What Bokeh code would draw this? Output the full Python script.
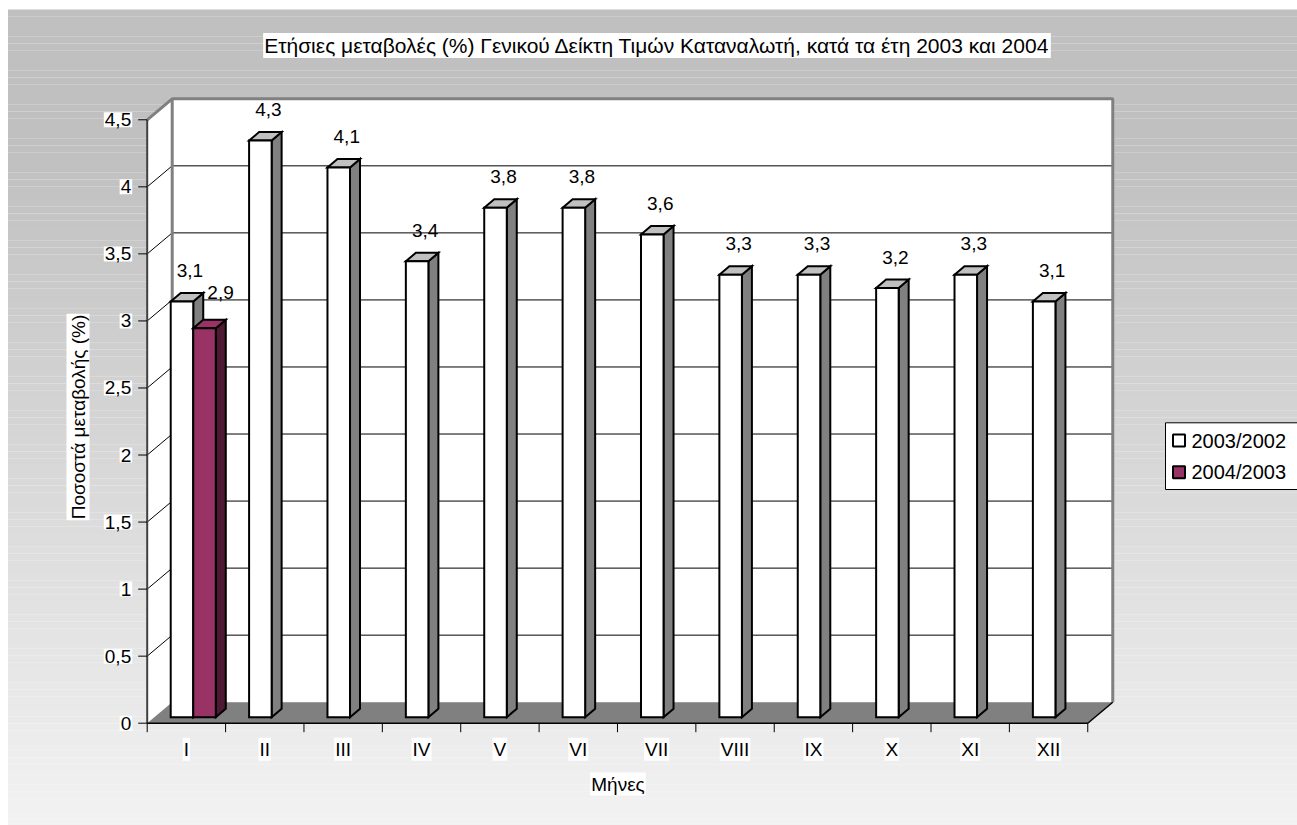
import numpy as np
from bokeh.plotting import figure
from bokeh.models import Range1d
from bokeh.core.properties import value
from bokeh.embed import file_html
from bokeh.resources import INLINE

# ---------------- data ----------------
title_text = "Ετήσιες μεταβολές (%) Γενικού Δείκτη Τιμών Καταναλωτή, κατά τα έτη 2003 και 2004"
y_title = "Ποσοστά μεταβολής (%)"
x_title = "Μήνες"
months = ["I", "II", "III", "IV", "V", "VI", "VII", "VIII", "IX", "X", "XI", "XII"]
series_names = ["2003/2002", "2004/2003"]
values_2003 = [3.1, 4.3, 4.1, 3.4, 3.8, 3.8, 3.6, 3.3, 3.3, 3.2, 3.3, 3.1]
values_2004 = [2.9]
y_ticks = [0, 0.5, 1, 1.5, 2, 2.5, 3, 3.5, 4, 4.5]
y_tick_labels = ["0", "0,5", "1", "1,5", "2", "2,5", "3", "3,5", "4", "4,5"]
y_max = 4.5

# ---------------- geometry (pixels) ----------------
W, H = 1297, 825
OX, OY = 146.7, 722.7      # pixel of (category 0, value 0) on front plane
PPX, PPY = 78.38, 134.09   # pixels per category / per value unit

def px2x(px):
    return (px - OX) / PPX

def px2y(py):
    return (OY - py) / PPY

DX, DY = 25 / PPX, 21 / PPY          # wall depth offset
BDX, BDY = 10 / PPX, 8.5 / PPY       # bar depth offset
B0 = 6 / PPY                          # bar base above front floor edge
BAR_W = 0.2875
BAR_OFF = [0.30, 0.5875]

FONT = value("Liberation Sans")

p = figure(width=W, height=H, output_backend="svg", toolbar_location=None,
           x_range=Range1d(px2x(0), px2x(W)), y_range=Range1d(px2y(H), px2y(0)),
           x_axis_location=None, y_axis_location=None, min_border=0)
p.grid.visible = False
p.outline_line_color = None
p.background_fill_color = "white"
p.border_fill_color = "white"

# ---------------- background gradient ----------------
BG_L, BG_T = 7.5, 9
n = 120
edges = np.linspace(BG_T, H, n + 1)
cols = []
for i in range(n):
    page_y = (edges[i] + edges[i + 1]) / 2
    g = int(round(min(243, max(192, 192 + (page_y - 150) * 0.0746))))
    cols.append("#%02x%02x%02x" % (g, g, g))
p.quad(left=px2x(BG_L), right=px2x(W + 2), top=[px2y(e) for e in edges[:-1]],
       bottom=[px2y(e) for e in edges[1:]], fill_color=cols, line_color=None)

nc = len(months)
# side wall
p.patch([0, DX, DX, 0], [0, DY, y_max + DY, y_max], fill_color="white", line_color=None)
# back wall
p.quad(left=DX, right=nc + DX, bottom=DY, top=y_max + DY, fill_color="white", line_color=None)
# floor
p.patch([0, nc, nc + DX, DX], [0, 0, DY, DY], fill_color="#808080", line_color=None)

# gridlines
gv = [t for t in y_ticks if 0 < t < y_max]
p.segment(x0=[DX] * len(gv), y0=[v + DY for v in gv], x1=[nc + DX] * len(gv),
          y1=[v + DY for v in gv], line_color="black", line_width=1)
p.segment(x0=[0] * len(gv), y0=gv, x1=[DX] * len(gv), y1=[v + DY for v in gv],
          line_color="black", line_width=1)

# wall borders
p.line([0, DX, nc + DX, nc + DX], [y_max, y_max + DY, y_max + DY, DY],
       line_color="#808080", line_width=3)
p.line([DX, DX], [DY, y_max + DY], line_color="#808080", line_width=3)
p.line([nc, nc + DX], [0, DY], line_color="black", line_width=1.5)

# axes
p.line([0, 0], [0, y_max], line_color="#404040", line_width=2)
p.line([0, nc], [0, 0], line_color="black", line_width=1.5)
p.segment(x0=[0] * len(y_ticks), y0=y_ticks, x1=[-9 / PPX] * len(y_ticks), y1=y_ticks,
          line_color="black", line_width=1)
cat_edges = list(range(nc + 1))
p.segment(x0=cat_edges, y0=[0] * len(cat_edges), x1=cat_edges,
          y1=[-9 / PPY] * len(cat_edges), line_color="black", line_width=1)

p.text(x=[0] * len(y_ticks), y=y_ticks, text=y_tick_labels, x_offset=-15,
       text_align="right", text_baseline="middle", text_font=FONT, text_font_size="19px",
       text_color="black", background_fill_color="white", padding=1)
p.text(x=[i + 0.5 for i in range(nc)], y=[0] * nc, text=months, y_offset=26,
       text_align="center", text_baseline="middle", text_font=FONT, text_font_size="19px",
       text_color="black", background_fill_color="white", padding=1)

# ---------------- bars ----------------
styles = [dict(front="white", side="#808080", top="#c0c0c0"),
          dict(front="#993366", side="#4d1933", top="#993366")]
label_dx = [3, 11]
label_dy = [-31, -36]
for s, vals in enumerate([values_2003, values_2004]):
    vals = np.array(vals, dtype=float)
    idx = np.arange(len(vals))
    left = idx + BAR_OFF[s]
    right = left + BAR_W
    bottom = np.full(len(vals), B0)
    top = vals + B0
    st = styles[s]
    side_xs = [[r, r + BDX, r + BDX, r] for r in right]
    side_ys = [[b, b + BDY, t + BDY, t] for b, t in zip(bottom, top)]
    top_xs = [[l, r, r + BDX, l + BDX] for l, r in zip(left, right)]
    top_ys = [[t, t, t + BDY, t + BDY] for t in top]
    p.patches(side_xs, side_ys, fill_color=st["side"], line_color="black", line_width=2,
              line_join="miter")
    p.patches(top_xs, top_ys, fill_color=st["top"], line_color="black", line_width=2,
              line_join="miter")
    p.quad(left=left, right=right, bottom=bottom, top=top, fill_color=st["front"],
           line_color="black", line_width=2, line_join="miter")
    p.text(x=(left + right) / 2 + BDX / 2, y=top, text=[f"{v:.1f}".replace(".", ",") for v in vals],
           x_offset=label_dx[s], y_offset=label_dy[s], text_align="center",
           text_baseline="middle", text_font=FONT, text_font_size="19px", text_color="black")

# ---------------- titles ----------------
p.text(x=[px2x(656.5)], y=[px2y(45)], text=[title_text], text_align="center",
       text_baseline="middle", text_font=FONT, text_font_size="21px", text_color="black",
       background_fill_color="white", padding=1)
p.text(x=[px2x(77.5)], y=[px2y(416.5)], text=[y_title], angle=np.pi / 2, text_align="center",
       text_baseline="middle", text_font=FONT, text_font_size="19px", text_color="black",
       background_fill_color="white", padding=1)
p.text(x=[px2x(617.5)], y=[px2y(783.5)], text=[x_title], text_align="center",
       text_baseline="middle", text_font=FONT, text_font_size="19px", text_color="black",
       background_fill_color="white", padding=1)

# ---------------- legend ----------------
p.quad(left=px2x(1165), right=px2x(W + 10), top=px2y(422.3), bottom=px2y(489),
       fill_color="white", line_color="black", line_width=1)
leg_y = [px2y(440), px2y(471.7)]
p.scatter(x=[px2x(1178.5)] * 2, y=leg_y, marker="square", size=12,
          fill_color=[styles[0]["front"], styles[1]["front"]], line_color="black", line_width=2)
p.text(x=[px2x(1191)] * 2, y=leg_y, text=series_names, text_align="left",
       text_baseline="middle", text_font=FONT, text_font_size="20px", text_color="black")

open("out.html", "w").write(file_html(p, INLINE))
